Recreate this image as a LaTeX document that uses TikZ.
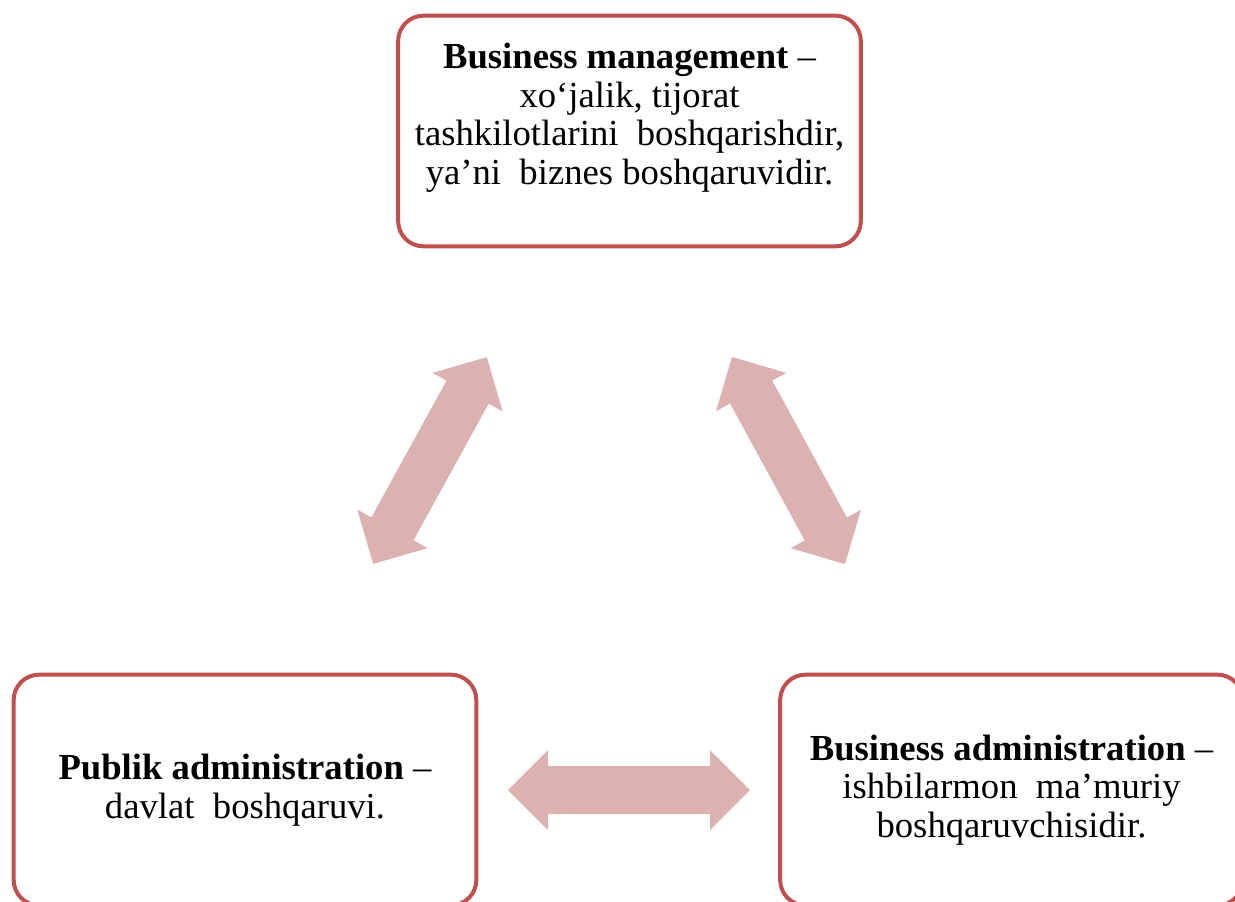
\documentclass[tikz,border=0pt]{standalone}
\usepackage{fontspec}
\setmainfont{Liberation Serif}
\definecolor{boxred}{RGB}{192,80,77}
\definecolor{arrowpink}{RGB}{220,178,177}
\tikzset{
	box/.style={draw=boxred, line width=3pt, rounded corners=19pt, fill=white,
		minimum width=347pt, minimum height=173pt},
	boxtext/.style={align=center, font=\fontsize{27.5}{29}\selectfont},
	blockarrow/.style={fill=arrowpink}
}
\begin{document}
\begin{tikzpicture}[x=0.75pt,y=-0.75pt]
			\clip (0,0) rectangle (1235,901);
			
			% Boxes
			\node [box] (bm) at (629.5,131) {};
			\node [boxtext] (bmtext) at ([yshift=10pt]bm.center) {\textbf{Business management} --\\ xo‘jalik, tijorat\\ tashkilotlarini\ \ boshqarishdir,\\ ya’ni\ \ biznes boshqaruvidir.};
			\node [box] (pa) at (245,790) {};
			\node [boxtext] (patext) at (pa.center) {\textbf{Publik administration} --\\ davlat\ \ boshqaruvi.};
			\node [box] (ba) at (1011.5,790) {};
			\node [boxtext] (batext) at (ba.center) {\textbf{Business administration} --\\ ishbilarmon\ \ ma’muriy\\ boshqaruvchisidir.};
			
			% Double arrows
			\begin{scope}[shift={(430,460.5)}, rotate=61.2]
			\fill [blockarrow] (-118,0) -- (-78,40) -- (-78,24) -- (78,24) -- (78,40) -- (118,0) -- (78,-40) -- (78,-24) -- (-78,-24) -- (-78,-40) -- cycle;
			\end{scope}
			\begin{scope}[shift={(788.5,460.5)}, rotate=-61.4]
			\fill [blockarrow] (-118,0) -- (-78,40) -- (-78,24) -- (78,24) -- (78,40) -- (118,0) -- (78,-40) -- (78,-24) -- (-78,-24) -- (-78,-40) -- cycle;
			\end{scope}
			\begin{scope}[shift={(629,790)}]
			\fill [blockarrow] (-121,0) -- (-81,40) -- (-81,24) -- (81,24) -- (81,40) -- (121,0) -- (81,-40) -- (81,-24) -- (-81,-24) -- (-81,-40) -- cycle;
			\end{scope}
\end{tikzpicture}
\end{document}
